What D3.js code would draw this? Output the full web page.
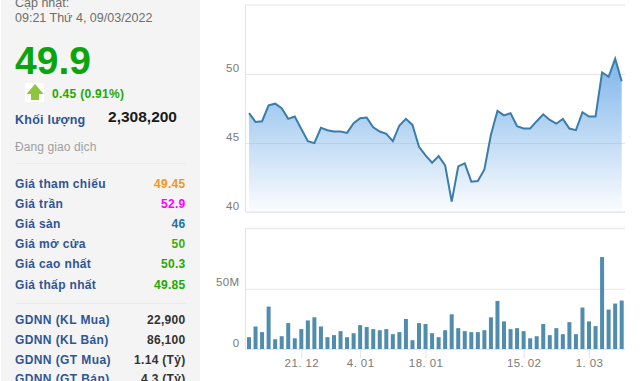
<!DOCTYPE html>
<html><head><meta charset="utf-8">
<script src="https://cdn.jsdelivr.net/npm/d3@7"></script>
<style>html,body{margin:0;padding:0;background:#fff;overflow:hidden}svg{display:block;font-family:"Liberation Sans",Arial,sans-serif}</style>
</head><body><svg id="c" width="640" height="381"></svg>
<script>
const dates=["9.12","10.12","13.12","14.12","15.12","16.12","17.12","20.12","21.12","22.12","23.12","24.12","27.12","28.12","29.12","30.12","31.12","4.01","5.01","6.01","7.01","10.01","11.01","12.01","13.01","14.01","17.01","18.01","19.01","20.01","21.01","24.01","25.01","26.01","27.01","28.01","7.02","8.02","9.02","10.02","11.02","14.02","15.02","16.02","17.02","18.02","21.02","22.02","23.02","24.02","25.02","28.02","1.03","2.03","3.03","4.03","7.03","8.03"];
const prices=[47.16,46.53,46.58,47.73,47.85,47.52,46.75,46.92,46.02,45.13,44.99,46.1,45.93,45.83,45.83,45.73,46.43,46.8,46.84,46.14,45.83,45.66,45.13,46.27,46.75,46.31,44.72,44.1,43.57,44.05,43.37,40.75,43.3,43.52,42.2,42.24,43.08,45.6,47.33,47.0,47.16,46.22,46.05,46.05,46.58,47.08,46.67,46.4,46.75,46.05,45.93,47.23,46.92,46.92,50.12,49.8,51.1,49.47];
const volumes=[9.8,18.7,14,35.2,8.1,10.6,21.5,8.9,16.5,23.7,26.3,18.7,9.8,11.5,14.8,9.8,13.1,19.8,18.2,16.5,15.6,16.5,12.3,14,24.9,7.3,21.5,20.7,13.1,9.8,15.6,28.8,17.3,14.8,14,14,15.6,26.3,39.9,22.9,16.5,17.3,14.8,8.9,10.6,20.7,11.5,17.3,12.3,22.3,12.3,34.4,22.9,19,76.3,32.7,37.7,40.2];
const dateTicks=["21.12","4.01","18.01","15.02","1.03"];
const priceTicks=[40,45,50];
const volumeTicks=[0,50];
const quoteRows=[["Giá tham chiếu","49.45","#f7941d"],["Giá trần","52.9","#f0f"],["Giá sàn","46","#1f6fa8"],["Giá mở cửa","50","#3fae00"],["Giá cao nhất","50.3","#1faa00"],["Giá thấp nhất","49.85","#1faa00"]];
const foreignRows=[["GDNN (KL Mua)","22,900"],["GDNN (KL Bán)","86,100"],["GDNN (GT Mua)","1.14 (Tỷ)"],["GDNN (GT Bán)","4.3 (Tỷ)"]];

const svg=d3.select("#c");
// side panel
svg.append("rect").attr("x",1).attr("y",0).attr("width",199).attr("height",381).attr("fill","#f4f4f4");
const T=(s,x,y,size,fill,o={})=>svg.append("text").text(s).attr("x",x).attr("y",y).attr("font-size",size).attr("fill",fill)
  .attr("font-weight",o.b?"bold":null).attr("text-anchor",o.a||"start").attr("letter-spacing",o.ls||null);
T("Cập nhật:",15,7,12.5,"#6e6e6e");
T("09:21 Thứ 4, 09/03/2022",15,22,12.5,"#6e6e6e");
T("49.9",15,74,39,"#0aa50a",{b:1});
svg.append("rect").attr("x",25).attr("y",83).attr("width",19).attr("height",19).attr("fill","#fff");
svg.append("path").attr("d","M35 84L43.5 94H39V100H31V94H26.5Z").attr("fill","#8cc63f");
T("0.45 (0.91%)",52,98,12,"#1faa00",{b:1,ls:0.3});
T("Khối lượng",15,124,12.5,"#2f5597",{b:1,ls:0.25});
T("2,308,200",177,122,15.5,"#1a1a1a",{b:1,a:"end"});
T("Đang giao dịch",15,151,12,"#a0a0a0",{ls:0.1});
svg.append("line").attr("x1",15).attr("x2",186).attr("y1",163.5).attr("y2",163.5).attr("stroke","#ececec");
svg.append("line").attr("x1",15).attr("x2",186).attr("y1",303.5).attr("y2",303.5).attr("stroke","#ececec");
svg.append("g").selectAll("g").data(quoteRows).join("g").each(function(d,i){
  const y=188+i*20.1, g=d3.select(this);
  g.append("text").text(d[0]).attr("x",15).attr("y",y).attr("font-size",12).attr("font-weight","bold").attr("fill","#2f5597").attr("letter-spacing",0.35);
  g.append("text").text(d[1]).attr("x",185.5).attr("y",y).attr("font-size",12).attr("font-weight","bold").attr("fill",d[2]).attr("text-anchor","end").attr("letter-spacing",0.3);
});
svg.append("g").selectAll("g").data(foreignRows).join("g").each(function(d,i){
  const y=324+i*19.8, g=d3.select(this);
  g.append("text").text(d[0]).attr("x",15).attr("y",y).attr("font-size",12).attr("font-weight","bold").attr("fill","#2f5597").attr("letter-spacing",0.4);
  g.append("text").text(d[1]).attr("x",185.5).attr("y",y).attr("font-size",12).attr("font-weight","bold").attr("fill","#333").attr("text-anchor","end").attr("letter-spacing",0.3);
});

// charts
const L=245.5,R=625;
const x=d3.scalePoint().domain(dates).range([249,621.7]);
const y=d3.scaleLinear().domain([40,55]).range([212,5]);
const yV=d3.scaleLinear().domain([0,100]).range([349,228.5]);
const grad=svg.append("defs").append("linearGradient").attr("id","ag").attr("x1",0).attr("x2",0).attr("y1",0).attr("y2",1);
grad.append("stop").attr("offset",0).attr("stop-color","#7fb5ea");
grad.append("stop").attr("offset",1).attr("stop-color","#7fb5ea").attr("stop-opacity",0.03);

const gridStyle=(g,col)=>{g.selectAll(".tick line").attr("stroke",col);g.select(".domain").remove();
  g.selectAll("text").attr("fill","#7a7a7a").attr("font-size",11.5).attr("letter-spacing",0.4);};
const ay=svg.append("g").attr("transform",`translate(${L},0)`).call(d3.axisLeft(y).tickValues(priceTicks).tickSize(-(R-L)).tickPadding(6));
gridStyle(ay,"#e6e6e6");
ay.selectAll("text").attr("dy","-0.25em");
const av=svg.append("g").attr("transform",`translate(${L},0)`).call(d3.axisLeft(yV).tickValues(volumeTicks).tickFormat(d=>d?d+"M":"0").tickSize(-(R-L)).tickPadding(6));
gridStyle(av,"#e6e6e6");
av.selectAll("text").attr("dy","-0.25em");

// frames
const frame=(t,b)=>{
  svg.append("line").attr("x1",L).attr("x2",R).attr("y1",t).attr("y2",t).attr("stroke","#ececec").attr("stroke-width",1.5);
  svg.append("line").attr("x1",L).attr("x2",L).attr("y1",t).attr("y2",b).attr("stroke","#dfe4f2");
  svg.append("line").attr("x1",L).attr("x2",R).attr("y1",b).attr("y2",b).attr("stroke","#e2e6f0");
};
frame(5,212);frame(228.5,349);

const area=d3.area().x((d,i)=>x(dates[i])).y0(y(40)).y1(d=>y(d));
const line=d3.line().x((d,i)=>x(dates[i])).y(d=>y(d));
svg.append("path").datum(prices).attr("d",area).attr("fill","url(#ag)");
svg.append("path").datum(prices).attr("d",line).attr("fill","none").attr("stroke","#3a7dab").attr("stroke-width",2);

svg.append("g").selectAll("rect").data(volumes).join("rect")
  .attr("x",(d,i)=>x(dates[i])-2).attr("width",4).attr("y",d=>yV(d)).attr("height",d=>yV(0)-yV(d)).attr("fill","#4f8cae");

const ax=svg.append("g").attr("transform","translate(0,349)").call(d3.axisBottom(x).tickValues(dateTicks).tickSize(9).tickPadding(1).tickFormat(d=>d.replace("."," .").replace(" .",". ")));
ax.select(".domain").remove();
ax.selectAll(".tick line").attr("stroke","#dfe4f2").attr("y1",0).attr("y2",9);
ax.selectAll("text").attr("fill","#7a7a7a").attr("font-size",11.5).attr("letter-spacing",0.4);
</script></body></html>
